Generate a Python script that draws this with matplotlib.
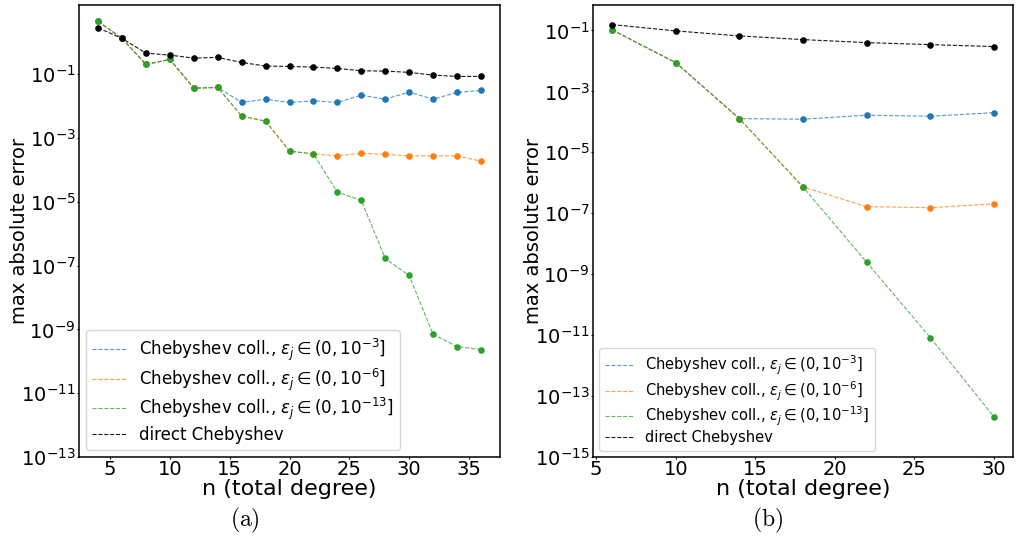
import matplotlib
matplotlib.use("Agg")
import matplotlib.pyplot as plt
from matplotlib.ticker import NullLocator

# ---- panel (a): degrees 4..36 ----
n_a = [4, 6, 8, 10, 12, 14, 16, 18, 20, 22, 24, 26, 28, 30, 32, 34, 36]
coll3_a = [4.56, 1.33, 0.204, 0.293, 0.0368, 0.0387, 0.0131, 0.0166, 0.0131, 0.0147,
           0.0131, 0.0222, 0.0166, 0.0276, 0.0166, 0.0270, 0.0312]
coll6_a = [4.56, 1.33, 0.204, 0.293, 0.0368, 0.0387, 4.87e-3, 3.40e-3, 3.89e-4, 3.20e-4,
           2.77e-4, 3.37e-4, 3.07e-4, 2.77e-4, 2.77e-4, 2.77e-4, 1.89e-4]
coll13_a = [4.56, 1.33, 0.204, 0.293, 0.0368, 0.0387, 4.87e-3, 3.40e-3, 3.89e-4, 3.20e-4,
            2.01e-5, 1.11e-5, 1.68e-7, 4.91e-8, 7.08e-10, 2.91e-10, 2.34e-10]
direct_a = [2.87, 1.33, 0.461, 0.400, 0.322, 0.338, 0.236, 0.181, 0.177, 0.168,
            0.153, 0.129, 0.126, 0.115, 0.0942, 0.0859, 0.0859]

# ---- panel (b): degrees 6..30 ----
n_b = [6, 10, 14, 18, 22, 26, 30]
coll3_b = [0.1045, 8.8e-3, 1.28e-4, 1.22e-4, 1.66e-4, 1.53e-4, 2.01e-4]
coll6_b = [0.1045, 8.8e-3, 1.28e-4, 7.3e-7, 1.65e-7, 1.53e-7, 2.03e-7]
coll13_b = [0.1045, 8.8e-3, 1.28e-4, 7.3e-7, 2.47e-9, 8.3e-12, 2.1e-14]
direct_b = [0.156, 0.0968, 0.0664, 0.0502, 0.0400, 0.0344, 0.0296]

labels = [r"Chebyshev coll., $\varepsilon_j \in (0,10^{-3}]$",
          r"Chebyshev coll., $\varepsilon_j \in (0,10^{-6}]$",
          r"Chebyshev coll., $\varepsilon_j \in (0,10^{-13}]$",
          "direct Chebyshev"]
colors = ["tab:blue", "tab:orange", "tab:green", "black"]

fig = plt.figure(figsize=(10.18, 5.37), dpi=100)
ax_a = fig.add_axes([0.0776, 0.149, 0.4136, 0.8417])
ax_b = fig.add_axes([0.5825, 0.149, 0.4126, 0.8417])


def draw(ax, n, series, bottom, yticks, legend_fs, spacing, ypad):
    for vals, col, lab in zip(series, colors, labels):
        ax.plot(n, vals, "--", color=col, lw=0.8, alpha=0.75 if col != "black" else 0.9,
                label=lab, zorder=2)
    for vals, col in zip(series, colors):
        ax.scatter(n, vals, s=14, color=col, zorder=3)
    ax.set_yscale("log")
    ax.set_ylim(bottom=bottom)
    ax.set_yticks(yticks)
    ax.yaxis.set_minor_locator(NullLocator())
    ax.tick_params(axis="both", labelsize=14, length=1.5, width=0.8, pad=1)
    ax.set_xlabel("n (total degree)", fontsize=16, labelpad=0)
    ax.set_ylabel("max absolute error", fontsize=14, labelpad=ypad)
    for sp in ax.spines.values():
        sp.set_linewidth(1.1)
    ax.legend(loc="lower left", fontsize=legend_fs, handlelength=2.0,
              borderaxespad=0.4, labelspacing=spacing)


draw(ax_a, n_a, [coll3_a, coll6_a, coll13_a, direct_a], 1e-13,
     [10.0 ** k for k in range(-13, 0, 2)], 12, 0.2, -6)
ax_a.set_xticks([5, 10, 15, 20, 25, 30, 35])

draw(ax_b, n_b, [coll3_b, coll6_b, coll13_b, direct_b], 1e-15,
     [10.0 ** k for k in range(-15, 0, 2)], 10.5, 0.15, -6)
ax_b.set_xticks([5, 10, 15, 20, 25, 30])

fig.text(0.241, 0.03, r"$\mathrm{(a)}$", fontsize=17, ha="center", va="center",
         math_fontfamily="cm")
fig.text(0.754, 0.03, r"$\mathrm{(b)}$", fontsize=17, ha="center", va="center",
         math_fontfamily="cm")

fig.savefig("out.png", dpi=100)
